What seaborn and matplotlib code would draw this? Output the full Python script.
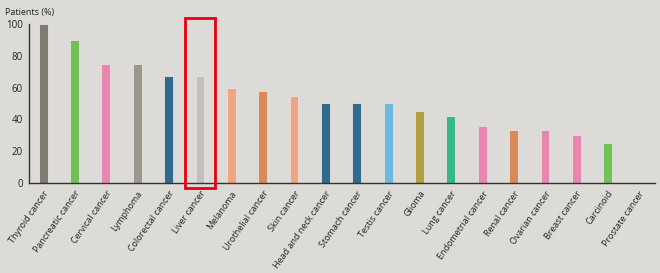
import matplotlib
matplotlib.use("Agg")
import matplotlib.pyplot as plt
import seaborn as sns
import pandas as pd
from matplotlib.patches import Rectangle

categories = ["Thyroid cancer", "Pancreatic cancer", "Cervical cancer", "Lymphoma",
              "Colorectal cancer", "Liver cancer", "Melanoma", "Urothelial cancer",
              "Skin cancer", "Head and neck cancer", "Stomach cancer", "Testis cancer",
              "Glioma", "Lung cancer", "Endometrial cancer", "Renal cancer",
              "Ovarian cancer", "Breast cancer", "Carcinoid", "Prostate cancer"]
values = [100, 90, 75, 75, 67, 67, 60, 58, 55, 50, 50, 50, 45, 42, 36, 33, 33, 30, 25, 0]
colors = ["#7f7a72", "#72c058", "#e986b0", "#9c978c", "#2f6b8c", "#c3bfba",
          "#f0a582", "#da8a58", "#f0a582", "#2f6b8c", "#2f6b8c", "#6db8e0",
          "#b0a040", "#35b98a", "#e986b0", "#da8a58", "#e986b0", "#e986b0",
          "#72c058", "#cccccc"]
yticks = [0, 20, 40, 60, 80, 100]
highlight = "Liver cancer"

bg = "#dcdbd8"
df = pd.DataFrame({"cat": categories, "val": values})

sns.set_style("white")
plt.rcParams['font.family'] = ['Open Sans', 'DejaVu Sans']

fig = plt.figure(figsize=(6.6, 2.73), dpi=100, facecolor=bg)
ax = fig.add_axes([0.044, 0.330, 0.948, 0.582])
ax.set_facecolor(bg)

sns.barplot(data=df, x="cat", y="val", hue="cat", palette=dict(zip(categories, colors)),
            width=0.28, saturation=1, legend=False, ax=ax, edgecolor="#e4e2de", linewidth=0.6)

ax.set_ylim(0, 100)
ax.set_xlim(-0.45, len(categories) - 0.5)
ax.set_yticks(yticks)
ax.set_yticklabels([str(t) for t in yticks], fontsize=7)
ax.set_xlabel("")
ax.set_ylabel("")
ax.set_xticks(range(len(categories)))
ax.set_xticklabels(categories, rotation=55, ha="right", rotation_mode="anchor", fontsize=6.5)
ax.tick_params(axis="both", length=3, width=0.8, color="#333333", pad=1.5, labelcolor="#222222")
for s in ["top", "right"]:
    ax.spines[s].set_visible(False)
for s in ["left", "bottom"]:
    ax.spines[s].set_color("#333333")
    ax.spines[s].set_linewidth(1.0)

fig.text(0.008, 0.955, "Patients (%)", fontsize=6.5, ha="left", va="center", color="#222222")

i = categories.index(highlight)
rect = Rectangle((i - 0.47, -3.5), 0.94, 107.5, fill=False, edgecolor="#e8000b",
                 linewidth=2, clip_on=False, zorder=5)
ax.add_patch(rect)

fig.savefig("out.png", dpi=100, facecolor=bg)
